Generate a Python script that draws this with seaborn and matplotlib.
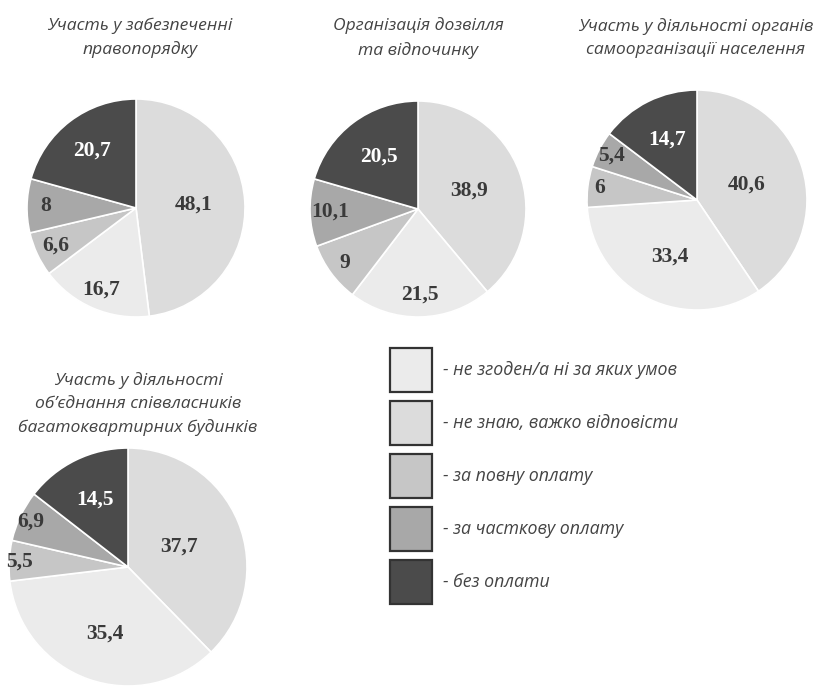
import matplotlib
matplotlib.use("Agg")
import matplotlib.pyplot as plt
import seaborn as sns
import numpy as np
from matplotlib.patches import Patch

sns.set_theme(style="white")
plt.rcParams['font.family'] = ['Open Sans', 'DejaVu Sans']

# ---- data ----
titles = [
    "Участь у забезпеченні\nправопорядку",
    "Організація дозвілля\nта відпочинку",
    "Участь у діяльності органів\nсамоорганізації населення",
    "Участь у діяльності\nоб’єднання співвласників\nбагатоквартирних будинків",
]
categories = ["- не згоден/а ні за яких умов",
              "- не знаю, важко відповісти",
              "- за повну оплату",
              "- за часткову оплату",
              "- без оплати"]
ne_zgoden = [16.7, 21.5, 33.4, 35.4]
ne_znayu = [48.1, 38.9, 40.6, 37.7]
povna = [6.6, 9, 6, 5.5]
chastkova = [8, 10.1, 5.4, 6.9]
bez_oplaty = [20.7, 20.5, 14.7, 14.5]

colors = {"ne_zgoden": "#ebebeb", "ne_znayu": "#dcdcdc", "povna": "#c6c6c6",
          "chastkova": "#a8a8a8", "bez": "#4b4b4b"}

# layout (pixels): center x, center y (from top), radius
W, H = 818, 688
layout = [(136, 208, 109), (418, 209, 108), (697, 200, 110), (128, 567, 119)]
title_pos = [(140, 38), (418, 38), (696, 38), (138, 404)]
# label distances (fraction of radius) for slices in drawing order
label_r = [
    [0.53, 0.81, 0.81, 0.83, 0.66],
    [0.50, 0.79, 0.84, 0.81, 0.61],
    [0.47, 0.57, 0.89, 0.88, 0.61],
    [0.46, 0.59, 0.91, 0.90, 0.63],
]

fig = plt.figure(figsize=(W / 100, H / 100), dpi=100)
fig.patch.set_facecolor("white")

def fmt(v):
    return f"{v:g}".replace(".", ",")

for i in range(4):
    cx, cy, r = layout[i]
    ax = fig.add_axes([(cx - r) / W, 1 - (cy + r) / H, 2 * r / W, 2 * r / H])
    vals = [ne_znayu[i], ne_zgoden[i], povna[i], chastkova[i], bez_oplaty[i]]
    cols = [colors["ne_znayu"], colors["ne_zgoden"], colors["povna"],
            colors["chastkova"], colors["bez"]]
    wedges, _ = ax.pie(vals, colors=cols, startangle=90, counterclock=False,
                       radius=1, wedgeprops=dict(edgecolor="white", linewidth=1.2))
    total = sum(vals)
    cum = 0
    for j, v in enumerate(vals):
        mid = np.deg2rad(90 - (cum + v / 2) / total * 360)
        cum += v
        d = label_r[i][j]
        ax.text(d * np.cos(mid), d * np.sin(mid), fmt(v), ha="center", va="center",
                fontsize=15.5, fontweight="bold", family="Liberation Serif",
                color="white" if j == 4 else "#3a3a3a")
    ax.set_xlim(-1, 1)
    ax.set_ylim(-1, 1)
    ax.set_aspect("equal")
    ax.axis("off")
    tx, ty = title_pos[i]
    fig.text(tx / W, 1 - ty / H, titles[i], ha="center", va="center",
             fontsize=12.6, style="italic", color="#444444", linespacing=1.55)

handles = [Patch(facecolor=c, edgecolor="#333333", linewidth=1.6)
           for c in [colors["ne_zgoden"], colors["ne_znayu"], colors["povna"],
                     colors["chastkova"], colors["bez"]]]
leg = fig.legend(handles, categories, loc="upper left",
                 bbox_to_anchor=(383 / W, 1 - 341 / H), frameon=False,
                 fontsize=12.8, handlelength=2.36, handleheight=3.43,
                 labelspacing=0.5, handletextpad=0.62, borderaxespad=0)
for t in leg.get_texts():
    t.set_style("italic")
    t.set_color("#444444")

fig.savefig("out.png", dpi=100, facecolor="white")
